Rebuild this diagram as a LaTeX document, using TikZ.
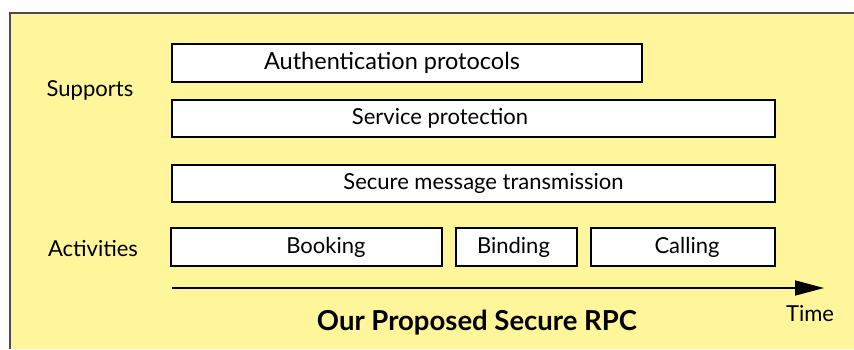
\documentclass[tikz,border=0pt]{standalone}
\usepackage{fontspec}
\setmainfont{Lato}
\usepackage{xcolor}
\usetikzlibrary{arrows.meta, positioning}

\definecolor{rpcyellow}{RGB}{255,245,155}

\begin{document}
\begin{tikzpicture}[x=1pt, y=-1pt,
    box/.style={draw=black, line width=2.4pt, fill=white},
    txt/.style={font=\fontsize{22}{24}\selectfont, inner sep=0pt}]
        \useasboundingbox (0,0) rectangle (854,349);

        % Background
        \fill[rpcyellow] (10,13) rectangle (854,349);
        \draw[black!70, line width=1.2pt] (10,349) -- (10,13) -- (854,13);

        % Supports
        \draw[box] (172,44) rectangle (642,82);
        \draw[box] (172,100) rectangle (775,137);
        \draw[box] (172,165) rectangle (775,202);

        % Activities
        \draw[box] (171,228) rectangle (442,266);
        \draw[box] (456,228) rectangle (577,266);
        \draw[box] (591,228) rectangle (775,266);

        % Box texts
        \node[txt, font=\fontsize{23.5}{25}\selectfont] (auth) at (392,63) {Authentication protocols};
        \node[txt] (service) at (440,118.5) {Service protection};
        \node[txt] (secure) at (483.5,183.5) {Secure message transmission};
        \node[txt] (booking) at (326,247) {Booking};
        \node[txt] (binding) at (513.5,247) {Binding};
        \node[txt] (calling) at (687,247) {Calling};

        % Side labels
        \node[txt] (supports) at (90,90) {Supports};
        \node[txt] (activities) at (93,249) {Activities};

        % Time axis
        \coordinate (T0) at (172,288);
        \coordinate (T1) at (824,288);
        \draw[line width=1.5pt, -{Triangle[length=29pt, width=15pt]}] (T0) -- (T1);
        \node[txt] (time) at (810,314) {Time};

        % Title
        \node[txt, font=\fontsize{27.5}{29}\selectfont\bfseries] (title) at (477,323) {Our Proposed Secure RPC};

    \end{tikzpicture}
\end{document}
